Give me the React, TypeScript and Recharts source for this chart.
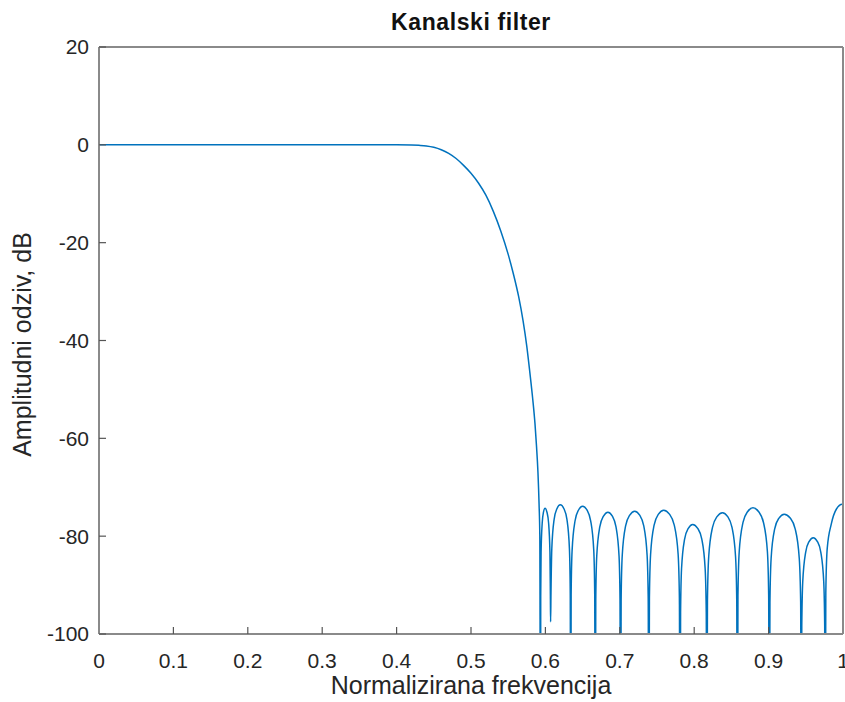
import React from 'react';
import { LineChart, Line, XAxis, YAxis } from 'recharts';

const X_TICKS = [0, 0.1, 0.2, 0.3, 0.4, 0.5, 0.6, 0.7, 0.8, 0.9, 1];
const Y_TICKS = [-100, -80, -60, -40, -20, 0, 20];

const TITLE = 'Kanalski filter';
const X_LABEL = 'Normalizirana frekvencija';
const Y_LABEL = 'Amplitudni odziv, dB';

// [normalised frequency, amplitude dB] — passband and transition band
const passband: [number, number][] = [
  [0, 0], [0.1, 0], [0.2, 0], [0.3, 0], [0.4, 0], [0.42, -0.03], [0.43, -0.1],
  [0.44, -0.22], [0.45, -0.5], [0.46, -1.0], [0.47, -1.75], [0.48, -2.8],
  [0.49, -4.2], [0.5, -5.8], [0.51, -7.8], [0.52, -10.3], [0.53, -13.6],
  [0.54, -17.6], [0.55, -22.4], [0.557, -26.4], [0.564, -31.0], [0.57, -36.0],
  [0.575, -41.2], [0.579, -46.4], [0.583, -52.0], [0.586, -57.0], [0.588, -61.5],
  [0.59, -67.0], [0.5915, -73.5], [0.5925, -80], [0.5935, -140],
];

// stopband ripple lobes (nulls go below the axis and are clipped)
const stopband: [number, number][] = [
  [0.5937, -92.3], [0.5942, -83.3], [0.5957, -77.3], [0.5974, -75.1], [0.5995, -74.3], [0.6021, -75.1], [0.6043, -77.3], [0.6061, -83.3], [0.6067, -92.3], [0.607, -97.5],
  [0.6075, -91.6], [0.6086, -82.6], [0.6117, -76.6], [0.6155, -74.4], [0.62, -73.6], [0.6249, -74.4], [0.629, -76.6], [0.6323, -82.6], [0.6334, -91.6], [0.634, -140],
  [0.6346, -91.9], [0.6359, -82.9], [0.6398, -76.9], [0.6444, -74.7], [0.65, -73.9], [0.656, -74.7], [0.6609, -76.9], [0.665, -82.9], [0.6663, -91.9], [0.667, -140],
  [0.6677, -93.1], [0.669, -84.1], [0.6731, -78.1], [0.6781, -75.9], [0.684, -75.1], [0.69, -75.9], [0.6949, -78.1], [0.699, -84.1], [0.7003, -93.1], [0.701, -140],
  [0.7018, -92.9], [0.7033, -83.9], [0.7078, -77.9], [0.7134, -75.7], [0.72, -74.9], [0.7267, -75.7], [0.7322, -77.9], [0.7367, -83.9], [0.7382, -92.9], [0.739, -140],
  [0.7398, -92.7], [0.7414, -83.7], [0.7462, -77.7], [0.752, -75.5], [0.759, -74.7], [0.7667, -75.5], [0.7731, -77.7], [0.7784, -83.7], [0.7801, -92.7], [0.781, -140],
  [0.7817, -95.6], [0.783, -86.6], [0.7871, -80.6], [0.7921, -78.4], [0.798, -77.6], [0.8047, -78.4], [0.8102, -80.6], [0.8147, -86.6], [0.8162, -95.6], [0.817, -140],
  [0.8178, -93.2], [0.8195, -84.2], [0.8246, -78.2], [0.8307, -76.0], [0.838, -75.2], [0.845, -76.0], [0.8508, -78.2], [0.8556, -84.2], [0.8572, -93.2], [0.858, -140],
  [0.8588, -92.2], [0.8605, -83.2], [0.8656, -77.2], [0.8717, -75.0], [0.879, -74.2], [0.8867, -75.0], [0.8931, -77.2], [0.8984, -83.2], [0.9001, -92.2], [0.901, -140],
  [0.9018, -93.5], [0.9034, -84.5], [0.9082, -78.5], [0.914, -76.3], [0.921, -75.5], [0.929, -76.3], [0.9357, -78.5], [0.9412, -84.5], [0.9431, -93.5], [0.944, -140],
  [0.9446, -98.3], [0.9459, -89.3], [0.9498, -83.3], [0.9544, -81.1], [0.96, -80.3], [0.9656, -81.1], [0.9702, -83.3], [0.9741, -89.3], [0.9754, -98.3], [0.976, -140],
  [0.9769, -91.5], [0.9788, -82.5], [0.9843, -77.5], [0.991, -74.5], [0.999, -73.5], [1.0, -73.5],
];

const data = [...passband, ...stopband].map(([f, db]) => ({ f, db }));

const FONT = '"Liberation Sans", Arial, Helvetica, sans-serif';
const AXIS_COLOR = '#8a8a8a';
const TICK_COLOR = '#555555';
const TEXT_COLOR = '#262626';
const LINE_COLOR = '#0072BD';

const tickStyle = { fill: TEXT_COLOR, fontSize: 21, fontFamily: FONT };

export default function App() {
  return (
    <div style={{ position: 'absolute', left: 0, top: 0, width: 845, height: 702, background: '#ffffff' }}>
      <LineChart width={845} height={702} data={data} margin={{ top: 46, right: 1, bottom: 0, left: 0 }}>
        <XAxis
          xAxisId="bottom"
          dataKey="f"
          type="number"
          domain={[0, 1]}
          ticks={X_TICKS}
          interval={0}
          allowDataOverflow
          height={68}
          tickSize={-7}
          tickMargin={26}
          axisLine={{ stroke: AXIS_COLOR, strokeWidth: 2 }}
          tickLine={{ stroke: TICK_COLOR, strokeWidth: 1.2 }}
          tick={tickStyle}
          label={{
            content: (props: any) => {
              const vb = props.viewBox || { x: 99, y: 634, width: 744 };
              return (
                <text x={vb.x + vb.width / 2} y={vb.y + 60} textAnchor="middle" fill={TEXT_COLOR} fontSize={25} fontFamily={FONT}>
                  {X_LABEL}
                </text>
              );
            },
          }}
        />
        <XAxis
          xAxisId="top"
          orientation="top"
          dataKey="f"
          type="number"
          domain={[0, 1]}
          ticks={X_TICKS}
          interval={0}
          allowDataOverflow
          height={1}
          tickSize={-7}
          tick={false}
          axisLine={{ stroke: AXIS_COLOR, strokeWidth: 2 }}
          tickLine={{ stroke: TICK_COLOR, strokeWidth: 1.2 }}
        />
        <YAxis
          yAxisId="left"
          type="number"
          domain={[-100, 20]}
          ticks={Y_TICKS}
          interval={0}
          allowDataOverflow
          width={99}
          tickSize={-7}
          tickMargin={17}
          axisLine={{ stroke: AXIS_COLOR, strokeWidth: 2 }}
          tickLine={{ stroke: TICK_COLOR, strokeWidth: 1.2 }}
          tick={tickStyle}
          label={{
            content: (props: any) => {
              const vb = props.viewBox || { x: 0, y: 47, width: 99, height: 587 };
              const cx = 31;
              const cy = vb.y + vb.height / 2 + 4;
              return (
                <g>
                  <text x={cx} y={cy} transform={`rotate(-90, ${cx}, ${cy})`} textAnchor="middle" fill={TEXT_COLOR} fontSize={25} fontFamily={FONT}>
                    {Y_LABEL}
                  </text>
                  <text x={471} y={vb.y - 17} textAnchor="middle" fill="#111111" fontSize={23} fontWeight="bold" letterSpacing={0.6} fontFamily={FONT}>
                    {TITLE}
                  </text>
                </g>
              );
            },
          }}
        />
        <YAxis
          yAxisId="right"
          orientation="right"
          type="number"
          domain={[-100, 20]}
          ticks={Y_TICKS}
          interval={0}
          allowDataOverflow
          width={1}
          tickSize={-7}
          tick={false}
          axisLine={{ stroke: AXIS_COLOR, strokeWidth: 2 }}
          tickLine={{ stroke: TICK_COLOR, strokeWidth: 1.2 }}
        />
        <Line
          xAxisId="top"
          yAxisId="right"
          dataKey="db"
          type="monotone"
          stroke="none"
          dot={false}
          activeDot={false}
          isAnimationActive={false}
        />
        <Line
          xAxisId="bottom"
          yAxisId="left"
          dataKey="db"
          type="monotone"
          stroke={LINE_COLOR}
          strokeWidth={1.5}
          dot={false}
          activeDot={false}
          isAnimationActive={false}
        />
      </LineChart>
    </div>
  );
}
